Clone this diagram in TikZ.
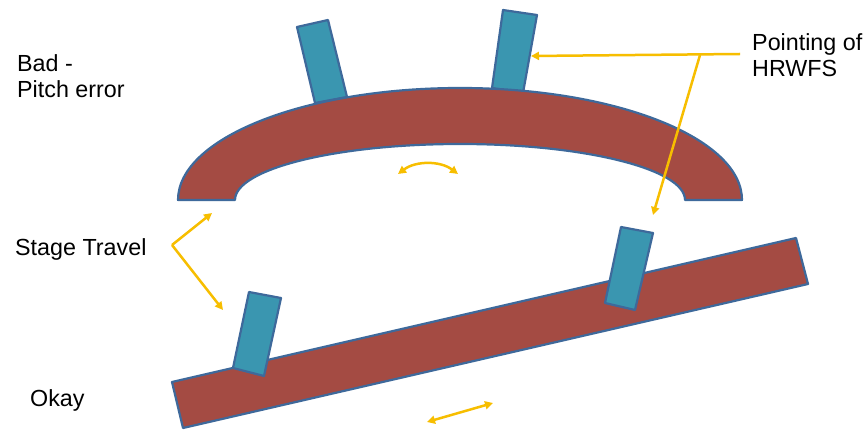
\documentclass[tikz,border=0pt]{standalone}
\usepackage{fontspec}
\setmainfont{Liberation Sans}
\usetikzlibrary{arrows.meta}
\definecolor{stagefill}{RGB}{164,75,67}
\definecolor{edgeblue}{RGB}{62,105,155}
\definecolor{sensorfill}{RGB}{58,150,176}
\definecolor{arrowgold}{RGB}{247,190,0}
\tikzset{
  stagebody/.style={fill=stagefill,draw=edgeblue,line width=2.2pt,line join=round},
  sensor/.style={fill=sensorfill,draw=edgeblue,line width=2.2pt,line join=round},
  callout/.style={draw=arrowgold,line width=2.5pt,-{Triangle[length=8pt,width=8pt]}},
  callboth/.style={draw=arrowgold,line width=2.5pt,{Triangle[length=8pt,width=8pt]}-{Triangle[length=8pt,width=8pt]}},
  lbl/.style={inner sep=0pt,align=left,font=\fontsize{23.3}{26}\selectfont}
}
\begin{document}
\begin{tikzpicture}[x=1pt,y=-1pt]
\useasboundingbox[fill=white] (0,0) rectangle (866,430);
% sensors on the arch (behind)
\draw[sensor] (297,27) -- (328,20) -- (347,97) -- (315,103) -- cycle;
\draw[sensor] (503,10) -- (537,15) -- (523,93) -- (492,88) -- cycle;
% arch
\draw[stagebody] (178,200) arc[start angle=180,end angle=360,x radius=282,y radius=112]
  -- (685,200) arc[start angle=0,end angle=-180,x radius=225,y radius=56] -- cycle;
% flat stage
\draw[stagebody] (172,382) -- (796,238) -- (808,284) -- (183,428) -- cycle;
% sensors on the flat stage
\draw[sensor] (249,292) -- (281,298) -- (264,376) -- (233,368) -- cycle;
\draw[sensor] (621,227) -- (653,233) -- (635,310) -- (605,303) -- cycle;
% labels
\node[lbl,anchor=north west] (bad) at (17,54) {Bad -\\Pitch error};
\node[lbl,anchor=north west] (point) at (752,33) {Pointing of\\HRWFS};
\node[lbl,anchor=base west] (travel) at (15,255) {Stage Travel};
\node[lbl,anchor=base west] (okay) at (30,406) {Okay};
% arrow coordinates
\coordinate (pstart) at (740,54);
\coordinate (ptipA) at (531,56);
\coordinate (pbranch) at (700,55);
\coordinate (ptipB) at (653,215);
\coordinate (tvertex) at (172,245);
\coordinate (ttipA) at (212,213);
\coordinate (ttipB) at (223,310);
\coordinate (rotA) at (398,174);
\coordinate (slideA) at (427,422);
\coordinate (slideB) at (493,403);
% arrows
\draw[callout] (pstart) -- (ptipA);
\draw[callout] (pbranch) -- (ptipB);
\draw[callout] (tvertex) -- (ttipA);
\draw[callout] (tvertex) -- (ttipB);
\draw[callboth] (rotA) arc[start angle=-126.87,end angle=-53.13,radius=50];
\draw[callboth] (slideA) -- (slideB);
\end{tikzpicture}
\end{document}
